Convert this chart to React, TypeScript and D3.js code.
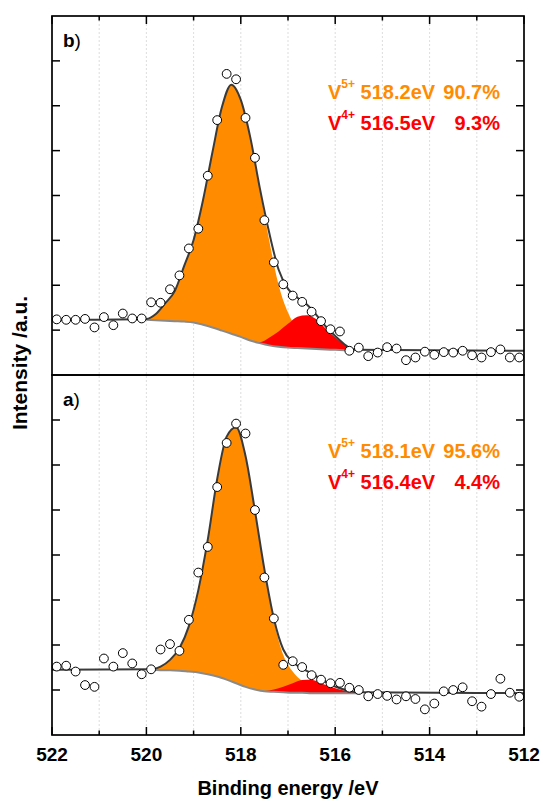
import { useEffect, useRef } from "react";
import * as d3 from "d3";

// measured points, binding energy (eV) every 0.2 eV
const dataEnergy = [
  521.9, 521.7, 521.5, 521.3, 521.1, 520.9, 520.7, 520.5, 520.3, 520.1,
  519.9, 519.7, 519.5, 519.3, 519.1, 518.9, 518.7, 518.5, 518.3, 518.1,
  517.9, 517.7, 517.5, 517.3, 517.1, 516.9, 516.7, 516.5, 516.3, 516.1,
  515.9, 515.7, 515.5, 515.3, 515.1, 514.9, 514.7, 514.5, 514.3, 514.1,
  513.9, 513.7, 513.5, 513.3, 513.1, 512.9, 512.7, 512.5, 512.3, 512.1,
];

const countsB = [
  1.24, 1.23, 1.23, 1.25, 1.06, 1.29, 1.11, 1.37, 1.26, 1.26,
  1.62, 1.61, 1.91, 2.22, 2.82, 3.26, 4.44, 5.68, 6.71, 6.59,
  5.73, 4.84, 3.45, 2.51, 2.02, 1.77, 1.63, 1.41, 1.20, 1.02,
  0.97, 0.54, 0.61, 0.42, 0.50, 0.62, 0.59, 0.33, 0.39, 0.52,
  0.45, 0.51, 0.50, 0.54, 0.44, 0.39, 0.51, 0.57, 0.39, 0.39,
];

const countsA = [
  1.52, 1.54, 1.41, 1.11, 1.07, 1.70, 1.52, 1.82, 1.59, 1.35,
  1.46, 1.90, 2.02, 1.87, 2.56, 3.61, 4.18, 5.51, 6.49, 6.92,
  6.70, 5.00, 3.50, 2.59, 1.56, 1.64, 1.51, 1.33, 1.23, 1.15,
  1.16, 1.05, 1.00, 0.86, 0.91, 0.87, 0.79, 0.86, 0.80, 0.57,
  0.70, 0.97, 1.00, 1.06, 0.75, 0.63, 0.91, 1.25, 0.94, 0.85,
];

// fit, panel b
const fitEnergyB = [
  520.0, 519.8, 519.6, 519.4, 519.2, 519.0, 518.8, 518.6, 518.4, 518.2, 518.0, 517.8,
  517.6, 517.4, 517.2, 517.0, 516.8, 516.6, 516.4, 516.2, 516.0, 515.8, 515.6,
];
const backgroundB = [
  1.23, 1.22, 1.21, 1.20, 1.19, 1.17, 1.12, 1.06, 0.99, 0.92, 0.85, 0.77,
  0.71, 0.66, 0.63, 0.61, 0.60, 0.59, 0.58, 0.57, 0.56, 0.55, 0.54,
];
const v5PeakB = [
  0.02, 0.14, 0.39, 0.67, 1.24, 1.84, 2.78, 3.91, 4.98, 5.55, 5.28, 4.53,
  3.45, 2.35, 1.38, 0.78, 0.42, 0.24, 0.10, 0.05, 0.03, 0.01, 0.0,
];
const v4PeakB = [
  0, 0, 0, 0, 0, 0, 0, 0, 0, 0, 0, 0,
  0.02, 0.17, 0.34, 0.53, 0.70, 0.74, 0.66, 0.46, 0.28, 0.12, 0.02,
];

// fit, panel a
const fitEnergyA = [
  519.9, 519.7, 519.5, 519.3, 519.1, 518.9, 518.7, 518.5, 518.3, 518.1, 517.9, 517.7,
  517.5, 517.3, 517.1, 516.9, 516.7, 516.5, 516.3, 516.1, 515.9, 515.7, 515.5,
];
const backgroundA = [
  1.45, 1.44, 1.44, 1.43, 1.41, 1.39, 1.35, 1.30, 1.23, 1.15, 1.07, 1.01,
  0.97, 0.96, 0.95, 0.94, 0.94, 0.93, 0.93, 0.93, 0.93, 0.93, 0.93,
];
const v5PeakA = [
  0.01, 0.08, 0.23, 0.50, 1.01, 1.83, 2.99, 4.39, 5.40, 5.69, 5.13, 3.97,
  2.70, 1.58, 0.83, 0.47, 0.26, 0.14, 0.09, 0.05, 0.03, 0.02, 0.01,
];
const v4PeakA = [
  0, 0, 0, 0, 0, 0, 0, 0, 0, 0, 0, 0,
  0.01, 0.05, 0.12, 0.21, 0.28, 0.30, 0.22, 0.14, 0.08, 0.03, 0.01,
];

const legendB = [
  { ion: "V", charge: "5+", energy: "518.2eV", share: "90.7%" },
  { ion: "V", charge: "4+", energy: "516.5eV", share: "9.3%" },
];
const legendA = [
  { ion: "V", charge: "5+", energy: "518.1eV", share: "95.6%" },
  { ion: "V", charge: "4+", energy: "516.4eV", share: "4.4%" },
];

const yTickValues = [1, 2, 3, 4, 5, 6, 7];

const ORANGE = "#ff8c00";
const RED = "#ff0000";
const FONT = "'Liberation Sans', Arial, Helvetica, sans-serif";

export default function App() {
  const svgRef = useRef<SVGSVGElement>(null);

  useEffect(() => {
    if (!svgRef.current) return;
    const width = 542;
    const height = 800;
    const left = 52;
    const right = 524;

    d3.select(svgRef.current).selectAll("*").remove();
    const svg = d3.select(svgRef.current)
      .attr("width", width)
      .attr("height", height)
      .attr("viewBox", `0 0 ${width} ${height}`);

    const x = d3.scaleLinear().domain([522, 512]).range([left, right]);

    const panels = [
      { label: "b", top: 16, bottom: 375, counts: countsB, fitE: fitEnergyB, bg: backgroundB, v5: v5PeakB, v4: v4PeakB, legend: legendB },
      { label: "a", top: 375, bottom: 735, counts: countsA, fitE: fitEnergyA, bg: backgroundA, v5: v5PeakA, v4: v4PeakA, legend: legendA },
    ];

    // vertical grid
    svg.append("g")
      .selectAll("line")
      .data(x.ticks(10).filter(t => t !== 522 && t !== 512))
      .join("line")
      .attr("x1", d => x(d))
      .attr("x2", d => x(d))
      .attr("y1", 16)
      .attr("y2", 735)
      .attr("stroke", "#d4d4d4")
      .attr("stroke-width", 0.8)
      .attr("stroke-dasharray", "2,2");

    panels.forEach(p => {
      const y = d3.scaleLinear().domain([0, 8]).range([p.bottom, p.top]);
      const g = svg.append("g");

      const rows = p.fitE.map((e, i) => ({
        e,
        bg: p.bg[i],
        v5: p.bg[i] + p.v5[i],
        v4: p.bg[i] + p.v4[i],
        env: p.bg[i] + p.v5[i] + p.v4[i],
      }));

      const areaOf = (key: "v5" | "v4") => d3.area<any>()
        .x(d => x(d.e))
        .y0(d => y(d.bg))
        .y1(d => y(d[key]))
        .curve(d3.curveMonotoneX);

      g.append("path").datum(rows).attr("d", areaOf("v5")).attr("fill", ORANGE);
      g.append("path").datum(rows).attr("d", areaOf("v4")).attr("fill", RED);

      const line = d3.line<any>()
        .x(d => x(d.e))
        .y(d => y(d.v))
        .curve(d3.curveMonotoneX);

      g.append("path")
        .datum(rows.map(r => ({ e: r.e, v: r.bg })))
        .attr("d", line)
        .attr("fill", "none")
        .attr("stroke", "#8a8a8a")
        .attr("stroke-width", 2);

      const last = rows.length - 1;
      const envelope = [
        { e: 522, v: rows[0].bg },
        ...rows.map(r => ({ e: r.e, v: r.env })),
        { e: 512, v: rows[last].bg },
      ];
      g.append("path")
        .datum(envelope)
        .attr("d", line)
        .attr("fill", "none")
        .attr("stroke", "#3a3a3a")
        .attr("stroke-width", 2);

      // data points
      g.selectAll("circle")
        .data(p.counts)
        .join("circle")
        .attr("cx", (d, i) => x(dataEnergy[i]))
        .attr("cy", d => y(d))
        .attr("r", 4.4)
        .attr("fill", "#fff")
        .attr("stroke", "#000")
        .attr("stroke-width", 1);

      // y ticks, both sides, inward
      yTickValues.forEach(t => {
        g.append("line")
          .attr("x1", left).attr("x2", left + 8)
          .attr("y1", y(t)).attr("y2", y(t))
          .attr("stroke", "#000").attr("stroke-width", 1.5);
        g.append("line")
          .attr("x1", right - 8).attr("x2", right)
          .attr("y1", y(t)).attr("y2", y(t))
          .attr("stroke", "#000").attr("stroke-width", 1.5);
      });

      // panel label
      const lab = g.append("text")
        .attr("x", 63)
        .attr("y", p.top + 31)
        .attr("font-family", FONT)
        .attr("font-size", 19)
        .attr("fill", "#000");
      lab.append("tspan").attr("font-weight", "bold").text(p.label);
      lab.append("tspan").text(")");

      // legend
      p.legend.forEach((l, i) => {
        const color = i === 0 ? ORANGE : RED;
        const base = p.top + 83 + i * 31;
        const t = g.append("text")
          .attr("x", 328)
          .attr("y", base)
          .attr("font-family", FONT)
          .attr("font-size", 20)
          .attr("font-weight", "bold")
          .attr("fill", color);
        t.append("tspan").text(l.ion);
        t.append("tspan").attr("font-size", 12).attr("dy", -11).text(l.charge);
        t.append("tspan").attr("dy", 11).text(" " + l.energy);
        g.append("text")
          .attr("x", 500)
          .attr("y", base)
          .attr("text-anchor", "end")
          .attr("font-family", FONT)
          .attr("font-size", 20)
          .attr("font-weight", "bold")
          .attr("fill", color)
          .text(l.share);
      });
    });

    // x ticks: top of panel b (down), bottom of panel a (up)
    x.ticks(10).forEach(t => {
      const len = t % 2 === 0 ? 8 : 4.5;
      svg.append("line")
        .attr("x1", x(t)).attr("x2", x(t))
        .attr("y1", 16).attr("y2", 16 + len)
        .attr("stroke", "#000").attr("stroke-width", 1.5);
      svg.append("line")
        .attr("x1", x(t)).attr("x2", x(t))
        .attr("y1", 735 - len).attr("y2", 735)
        .attr("stroke", "#000").attr("stroke-width", 1.5);
    });

    svg.append("g")
      .selectAll("text")
      .data(x.ticks(10).filter(t => t % 2 === 0))
      .join("text")
      .attr("x", d => x(d))
      .attr("y", 761)
      .attr("text-anchor", "middle")
      .attr("font-family", FONT)
      .attr("font-size", 19)
      .attr("font-weight", "bold")
      .text(d => d3.format("d")(d));

    // frames
    [[16, 375], [375, 735]].forEach(([t, b]) => {
      svg.append("rect")
        .attr("x", left).attr("y", t)
        .attr("width", right - left).attr("height", b - t)
        .attr("fill", "none")
        .attr("stroke", "#000")
        .attr("stroke-width", 1.7);
    });

    // axis titles
    svg.append("text")
      .attr("x", (left + right) / 2)
      .attr("y", 795)
      .attr("text-anchor", "middle")
      .attr("font-family", FONT)
      .attr("font-size", 20)
      .attr("font-weight", "bold")
      .text("Binding energy /eV");

    svg.append("text")
      .attr("transform", "translate(27,363) rotate(-90)")
      .attr("text-anchor", "middle")
      .attr("font-family", FONT)
      .attr("font-size", 21)
      .attr("font-weight", "bold")
      .text("Intensity /a.u.");
  }, []);

  return (
    <div style={{ position: "absolute", left: 0, top: 0 }}>
      <svg ref={svgRef} style={{ display: "block" }} />
    </div>
  );
}
